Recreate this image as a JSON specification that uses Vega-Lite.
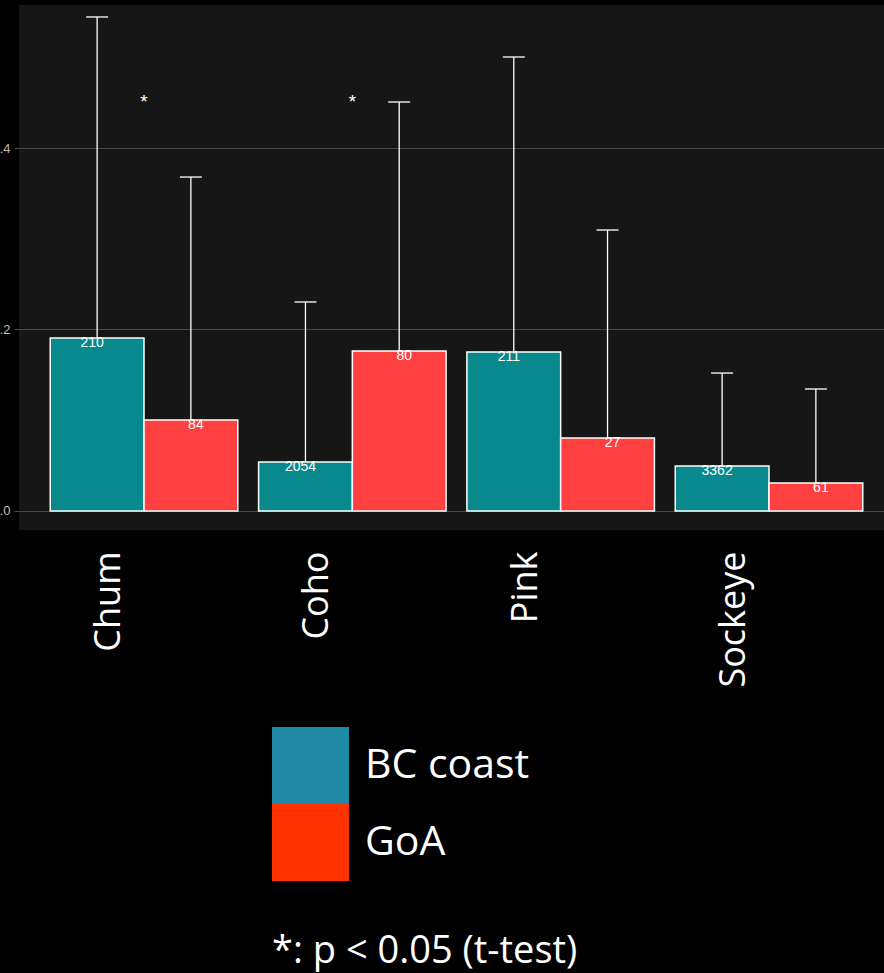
{
  "$schema": "https://vega.github.io/schema/vega-lite/v6.json",
  "autosize": {"type": "none"},
  "width": 875,
  "height": 525,
  "padding": {"left": 19, "top": 5, "right": -10, "bottom": 443},
  "background": "#000000",
  "config": {
    "view": {"fill": "#161616", "stroke": null},
    "font": "Liberation Sans"
  },
  "datasets": {
    "bars": [
      {"species": "Chum", "region": "BC coast", "mean": 0.1906, "upper": 0.5444, "n": "210"},
      {"species": "Chum", "region": "GoA", "mean": 0.1003, "upper": 0.368, "n": "84"},
      {"species": "Coho", "region": "BC coast", "mean": 0.054, "upper": 0.2303, "n": "2054"},
      {"species": "Coho", "region": "GoA", "mean": 0.1763, "upper": 0.4507, "n": "80"},
      {"species": "Pink", "region": "BC coast", "mean": 0.1752, "upper": 0.5003, "n": "211"},
      {"species": "Pink", "region": "GoA", "mean": 0.0804, "upper": 0.3096, "n": "27"},
      {"species": "Sockeye", "region": "BC coast", "mean": 0.0496, "upper": 0.152, "n": "3362"},
      {"species": "Sockeye", "region": "GoA", "mean": 0.0309, "upper": 0.1344, "n": "61"}
    ],
    "sig": [
      {"species": "Chum", "y": 0.455, "mark": "*"},
      {"species": "Coho", "y": 0.455, "mark": "*"}
    ]
  },
  "resolve": {"scale": {"color": "independent"}, "legend": {"color": "independent"}},
  "layer": [
    {
      "description": "Legend carrier: same bars in the key colours, fully covered by the bars drawn next",
      "data": {"name": "bars"},
      "mark": {"type": "bar", "strokeWidth": 0},
      "encoding": {
        "x": {
          "field": "species", "type": "nominal",
          "scale": {"paddingInner": 0.1, "paddingOuter": 0.15},
          "axis": {
            "title": null, "domain": false, "ticks": false,
            "labelAngle": 270, "labelFont": "Open Sans", "labelFontSize": 36,
            "labelColor": "#ffffff", "labelPadding": 21, "labelOffset": -35
          }
        },
        "xOffset": {"field": "region", "type": "nominal", "scale": {"paddingInner": 0, "paddingOuter": 0}},
        "y": {
          "field": "mean", "type": "quantitative",
          "scale": {"domain": [-0.021, 0.5576], "nice": false, "zero": false},
          "axis": {
            "title": null, "domain": false, "values": [0, 0.2, 0.4], "format": ".1f",
            "tickColor": "#4a4a4a", "tickSize": 5, "tickWidth": 1.2,
            "labelColor": "#c4bcb4", "labelFontSize": 13, "labelPadding": 4,
            "grid": true, "gridColor": "#4a4a4a", "gridWidth": 1.2
          }
        },
        "y2": {"datum": 0},
        "color": {
          "field": "region", "type": "nominal",
          "scale": {"domain": ["BC coast", "GoA"], "range": ["#2089A5", "#FF3300"]},
          "legend": {
            "orient": "none", "legendX": 253, "legendY": 722, "direction": "vertical",
            "title": "*: p < 0.05 (t-test)", "titleOrient": "bottom", "titleAnchor": "start",
            "titleFont": "Open Sans", "titleFontSize": 38, "titleFontWeight": "normal",
            "titleColor": "#ffffff", "titleLimit": 600, "titlePadding": 52,
            "symbolType": "square", "symbolSize": 5929, "symbolStrokeWidth": 0, "symbolOpacity": 1,
            "labelFont": "Open Sans", "labelFontSize": 41, "labelColor": "#ffffff",
            "labelOffset": 16, "labelLimit": 400, "padding": 0, "rowPadding": 0
          }
        }
      }
    },
    {
      "data": {"name": "bars"},
      "mark": {"type": "bar", "stroke": "#ffffff", "strokeWidth": 1.5},
      "encoding": {
        "x": {"field": "species", "type": "nominal"},
        "xOffset": {"field": "region", "type": "nominal"},
        "y": {"field": "mean", "type": "quantitative"},
        "y2": {"datum": 0},
        "color": {
          "field": "region", "type": "nominal",
          "scale": {"domain": ["BC coast", "GoA"], "range": ["#07898E", "#FF4040"]},
          "legend": null
        }
      }
    },
    {
      "data": {"name": "bars"},
      "mark": {"type": "rule", "color": "#ffffff", "strokeWidth": 1.3},
      "encoding": {
        "x": {"field": "species", "type": "nominal"},
        "xOffset": {"field": "region", "type": "nominal"},
        "y": {"field": "mean", "type": "quantitative"},
        "y2": {"field": "upper"}
      }
    },
    {
      "data": {"name": "bars"},
      "mark": {"type": "tick", "color": "#ffffff", "thickness": 1.3, "size": 22, "opacity": 1},
      "encoding": {
        "x": {"field": "species", "type": "nominal"},
        "xOffset": {"field": "region", "type": "nominal"},
        "y": {"field": "upper", "type": "quantitative"}
      }
    },
    {
      "data": {"name": "bars"},
      "transform": [{"filter": "datum.region === 'BC coast'"}],
      "mark": {"type": "text", "color": "#ffffff", "fontSize": 14, "baseline": "top", "dx": -5, "dy": -2},
      "encoding": {
        "x": {"field": "species", "type": "nominal"},
        "xOffset": {"field": "region", "type": "nominal"},
        "y": {"field": "mean", "type": "quantitative"},
        "text": {"field": "n"}
      }
    },
    {
      "data": {"name": "bars"},
      "transform": [{"filter": "datum.region === 'GoA'"}],
      "mark": {"type": "text", "color": "#ffffff", "fontSize": 14, "baseline": "top", "dx": 5, "dy": -2},
      "encoding": {
        "x": {"field": "species", "type": "nominal"},
        "xOffset": {"field": "region", "type": "nominal"},
        "y": {"field": "mean", "type": "quantitative"},
        "text": {"field": "n"}
      }
    },
    {
      "data": {"name": "sig"},
      "mark": {"type": "text", "color": "#ffffff", "fontSize": 19, "baseline": "middle", "dy": 4},
      "encoding": {
        "x": {"field": "species", "type": "nominal"},
        "y": {"field": "y", "type": "quantitative"},
        "text": {"field": "mark"}
      }
    }
  ]
}
